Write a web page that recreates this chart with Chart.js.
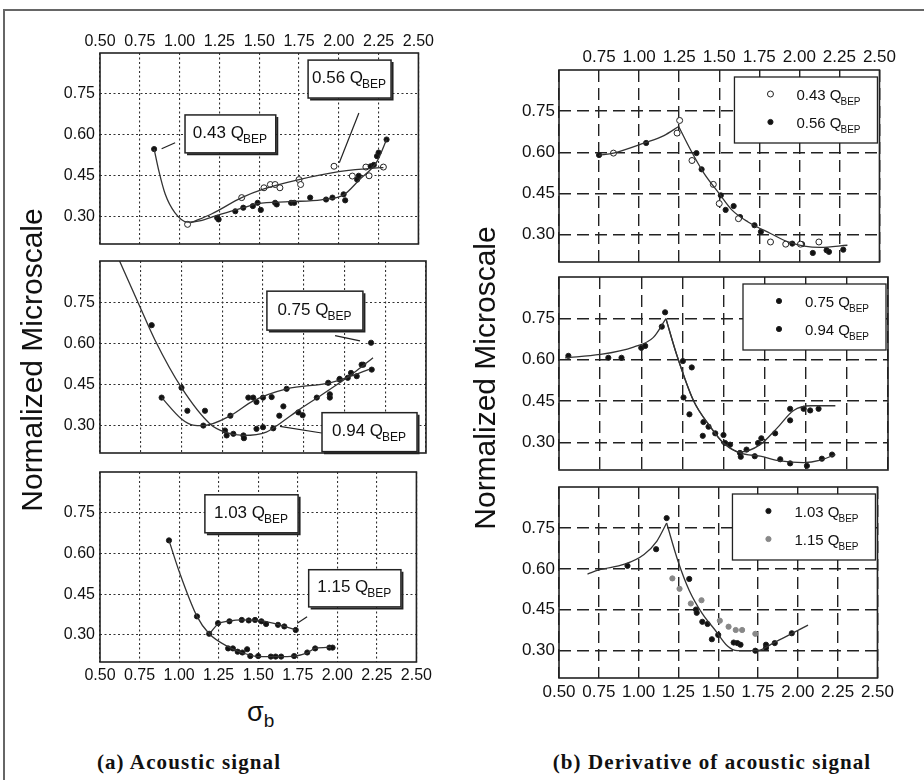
<!DOCTYPE html>
<html>
<head>
<meta charset="utf-8">
<script src="https://cdn.jsdelivr.net/npm/chart.js@4.4.1/dist/chart.umd.min.js"></script>
<style>
  body { margin: 0; background: #fff; width: 924px; height: 780px; position: relative; overflow: hidden; font-family: "Liberation Sans", Arial, sans-serif; }
  .frame { position: absolute; left: 3px; top: 9px; width: 960px; height: 800px; border-left: 2px solid #666; border-top: 2px solid #666; }
  .ytitle { position: absolute; width: 340px; height: 36px; line-height: 36px; text-align: center; font-size: 30px; color: #111; transform: rotate(-90deg); white-space: nowrap; }
  .sigma { position: absolute; left: 247px; top: 697px; font-size: 27px; color: #111; }
  .sigma sub { font-size: 19px; vertical-align: -6px; }
  .caption { position: absolute; top: 750px; font-family: "Liberation Serif", "Times New Roman", serif; font-weight: bold; font-size: 21px; letter-spacing: 1.1px; color: #111; white-space: nowrap; transform: translateX(-50%); }
  canvas { position: absolute; }
</style>
</head>
<body>
<div class="frame"></div>

<script>
// axes
var xTickValues = [0.50, 0.75, 1.00, 1.25, 1.50, 1.75, 2.00, 2.25, 2.50];
var yTickValues = [0.30, 0.45, 0.60, 0.75];

// (a) acoustic signal, top: 0.43 / 0.56 Q_BEP
var aTop43 = [[0.84,0.548],[1.236,0.296],[1.245,0.29],[1.35,0.32],[1.40,0.333],[1.46,0.339],[1.49,0.351],[1.51,0.325],[1.60,0.351],[1.61,0.345],[1.70,0.351],[1.72,0.351],[1.82,0.37],[1.92,0.363],[1.96,0.37],[2.03,0.382],[2.04,0.36],[2.115,0.436],[2.125,0.45],[2.20,0.485],[2.22,0.49],[2.24,0.522],[2.25,0.535],[2.30,0.583]];
var aTop56 = [[1.05,0.272],[1.39,0.37],[1.53,0.406],[1.57,0.418],[1.60,0.418],[1.63,0.406],[1.75,0.436],[1.76,0.418],[1.97,0.485],[2.085,0.449],[2.17,0.482],[2.19,0.45],[2.28,0.482]];
var aTop43Fit = [[0.84,0.548],[0.87,0.467],[0.91,0.382],[0.97,0.315],[1.05,0.28],[1.134,0.286],[1.236,0.305],[1.40,0.333],[1.49,0.348],[1.69,0.355],[1.89,0.362],[2.03,0.38],[2.13,0.436],[2.24,0.503],[2.30,0.583]];
var aTop56Fit = [[1.07,0.278],[1.20,0.31],[1.39,0.37],[1.53,0.402],[1.75,0.436],[2.00,0.465],[2.24,0.479],[2.28,0.48]];

// (a) middle: 0.75 / 0.94 Q_BEP
var aMid75 = [[0.878,0.402],[1.036,0.354],[1.144,0.354],[1.134,0.30],[1.30,0.336],[1.41,0.402],[1.44,0.402],[1.46,0.386],[1.50,0.402],[1.553,0.404],[1.645,0.434],[1.90,0.456],[1.97,0.47],[2.02,0.474],[2.105,0.522],[2.163,0.602]];
var aMid94 = [[0.817,0.666],[1.00,0.438],[1.267,0.282],[1.277,0.264],[1.318,0.27],[1.38,0.264],[1.383,0.254],[1.46,0.288],[1.50,0.294],[1.563,0.29],[1.60,0.336],[1.625,0.37],[1.717,0.348],[1.743,0.338],[1.83,0.402],[1.91,0.414],[1.91,0.402],[1.97,0.468],[2.04,0.492],[2.075,0.48],[2.115,0.522],[2.167,0.504]];
var aMid75Fit = [[0.878,0.402],[1.00,0.324],[1.07,0.302],[1.134,0.30],[1.30,0.336],[1.44,0.39],[1.645,0.434],[1.91,0.456],[2.04,0.48],[2.15,0.505]];
var aMid94Fit = [[0.62,0.90],[0.745,0.733],[0.837,0.612],[1.00,0.438],[1.175,0.306],[1.267,0.276],[1.38,0.264],[1.52,0.276],[1.60,0.306],[1.727,0.36],[1.85,0.408],[1.97,0.456],[2.07,0.498],[2.175,0.547]];

// (a) bottom: 1.03 / 1.15 Q_BEP
var aBot103 = [[0.936,0.648],[1.113,0.368],[1.19,0.304],[1.31,0.25],[1.34,0.25],[1.37,0.238],[1.40,0.235],[1.43,0.247],[1.45,0.222],[1.50,0.222],[1.58,0.22],[1.61,0.22],[1.645,0.22],[1.727,0.222],[1.81,0.235],[1.86,0.25],[1.95,0.253],[1.97,0.253]];
var aBot115 = [[1.246,0.343],[1.318,0.35],[1.396,0.355],[1.44,0.353],[1.48,0.355],[1.52,0.35],[1.55,0.34],[1.625,0.337],[1.665,0.331],[1.737,0.318]];
var aBot103Fit = [[0.936,0.648],[1.00,0.534],[1.113,0.368],[1.19,0.304],[1.318,0.254],[1.40,0.234],[1.50,0.22],[1.625,0.22],[1.727,0.222],[1.81,0.234],[1.86,0.25],[1.96,0.254]];
var aBot115Fit = [[1.195,0.306],[1.246,0.34],[1.318,0.351],[1.40,0.355],[1.50,0.353],[1.60,0.342],[1.737,0.318]];

// (b) derivative, top: 0.43 / 0.56 Q_BEP
var bTop43 = [[0.84,0.597],[1.253,0.716],[1.237,0.67],[1.33,0.57],[1.463,0.483],[1.50,0.413],[1.62,0.358],[1.82,0.273],[1.915,0.265],[2.007,0.265],[2.122,0.273]];
var bTop56 = [[0.75,0.59],[1.044,0.634],[1.358,0.597],[1.39,0.538],[1.51,0.443],[1.54,0.39],[1.59,0.404],[1.63,0.364],[1.72,0.334],[1.76,0.31],[1.956,0.267],[2.017,0.265],[2.084,0.233],[2.17,0.243],[2.185,0.237],[2.274,0.245]];
var bTopFitUp = [[0.75,0.589],[0.84,0.597],[1.034,0.634],[1.155,0.661],[1.247,0.694]];
var bTopFitDown = [[1.247,0.694],[1.32,0.61],[1.40,0.528],[1.50,0.449],[1.58,0.389],[1.68,0.346],[1.82,0.304],[1.93,0.273],[2.03,0.258],[2.13,0.253],[2.30,0.261]];

// (b) middle: 0.75 / 0.94 Q_BEP
var bMid75 = [[0.557,0.614],[0.80,0.607],[0.88,0.607],[1.00,0.643],[1.024,0.65],[1.125,0.72],[1.145,0.772],[1.253,0.595],[1.307,0.572],[1.293,0.402],[1.378,0.374],[1.45,0.333],[1.51,0.298],[1.60,0.262],[1.64,0.274],[1.71,0.298],[1.73,0.315],[1.814,0.333],[1.905,0.38],[1.905,0.422],[1.987,0.422],[2.027,0.416],[2.078,0.422]];
var bMid94 = [[1.257,0.463],[1.374,0.324],[1.409,0.357],[1.50,0.327],[1.54,0.292],[1.605,0.248],[1.69,0.25],[1.845,0.239],[1.905,0.224],[2.007,0.215],[2.098,0.241],[2.16,0.256]];
var bMidFitUp = [[0.537,0.607],[0.75,0.619],[0.953,0.646],[1.074,0.681],[1.15,0.749]];
var bMid75FitDown = [[1.15,0.749],[1.216,0.617],[1.318,0.451],[1.42,0.357],[1.50,0.298],[1.60,0.265],[1.723,0.292],[1.824,0.351],[1.926,0.416],[2.03,0.433],[2.18,0.433]];
var bMid94FitDown = [[1.15,0.749],[1.216,0.617],[1.318,0.451],[1.42,0.357],[1.50,0.298],[1.60,0.262],[1.723,0.25],[1.845,0.233],[1.987,0.227],[2.09,0.236],[2.18,0.256]];

// (b) bottom: 1.03 / 1.15 Q_BEP
var bBot103 = [[0.93,0.611],[1.11,0.672],[1.176,0.786],[1.318,0.563],[1.36,0.451],[1.365,0.439],[1.40,0.406],[1.433,0.398],[1.46,0.342],[1.50,0.358],[1.597,0.33],[1.62,0.328],[1.64,0.322],[1.733,0.30],[1.80,0.322],[1.80,0.31],[1.855,0.328],[1.962,0.364]];
var bBot115 = [[1.212,0.565],[1.257,0.527],[1.328,0.473],[1.395,0.485],[1.51,0.41],[1.565,0.388],[1.61,0.376],[1.65,0.376],[1.733,0.362]];
var bBotFitUp = [[0.679,0.581],[0.75,0.596],[0.912,0.617],[1.034,0.653],[1.115,0.702],[1.176,0.768]];
var bBotFitDown = [[1.176,0.768],[1.247,0.629],[1.318,0.521],[1.40,0.436],[1.48,0.376],[1.56,0.316],[1.62,0.30],[1.743,0.30],[1.845,0.328],[1.946,0.358],[2.064,0.394]];

var FONT = '"Liberation Sans", Arial, sans-serif';

function xy(arr) {
    return arr.map(function (p) { return { x: p[0], y: p[1] }; });
}

function pts(arr, flow, kind) {
    var fill = kind === 'open' ? '#fff' : (kind === 'grey' ? '#888' : '#111');
    return {
        data: xy(arr), flow: flow, showLine: false,
        pointRadius: kind === 'open' ? 3 : 2.6, pointHoverRadius: 0,
        pointBackgroundColor: fill, pointBorderColor: kind === 'grey' ? '#888' : '#222',
        pointBorderWidth: 1
    };
}

function fit(arr) {
    return {
        data: xy(arr), showLine: true, pointRadius: 0, pointHoverRadius: 0,
        borderColor: '#333', borderWidth: 1.3, fill: false,
        cubicInterpolationMode: 'monotone'
    };
}

// Q_BEP text with subscript
function drawQ(ctx, x, y, num, size, align) {
    var main = num + ' Q';
    ctx.font = size + 'px ' + FONT;
    var w1 = ctx.measureText(main).width;
    ctx.font = Math.round(size * 0.68) + 'px ' + FONT;
    var w2 = ctx.measureText('BEP').width;
    var x0 = align === 'center' ? x - (w1 + w2) / 2 : x;
    ctx.fillStyle = '#111';
    ctx.textAlign = 'left';
    ctx.textBaseline = 'alphabetic';
    ctx.font = size + 'px ' + FONT;
    ctx.fillText(main, x0, y);
    ctx.font = Math.round(size * 0.68) + 'px ' + FONT;
    ctx.fillText('BEP', x0 + w1 - 1, y + size * 0.3);
}

var panelDecor = {
    id: 'panelDecor',
    afterDatasetsDraw: function (chart, args, o) {
        var ctx = chart.ctx, xs = chart.scales.x, ys = chart.scales.y, a = chart.chartArea;
        ctx.save();

        // label boxes with pointer lines
        (o.notes || []).forEach(function (n) {
            ctx.strokeStyle = '#222';
            ctx.lineWidth = 1.2;
            if (n.line) {
                ctx.beginPath();
                ctx.moveTo(xs.getPixelForValue(n.line[0]), ys.getPixelForValue(n.line[1]));
                ctx.lineTo(xs.getPixelForValue(n.line[2]), ys.getPixelForValue(n.line[3]));
                ctx.stroke();
            }

            var x0 = xs.getPixelForValue(n.box[0]), y0 = ys.getPixelForValue(n.box[1]);
            var x1 = xs.getPixelForValue(n.box[2]), y1 = ys.getPixelForValue(n.box[3]);
            ctx.fillStyle = '#fff';
            ctx.fillRect(x0, y0, x1 - x0, y1 - y0);
            ctx.lineWidth = 1.5;
            ctx.strokeRect(x0, y0, x1 - x0, y1 - y0);
            ctx.lineWidth = 2;
            ctx.beginPath();
            ctx.moveTo(x1 + 1.5, y0 + 2);
            ctx.lineTo(x1 + 1.5, y1 + 1.5);
            ctx.lineTo(x0 + 2, y1 + 1.5);
            ctx.stroke();
            drawQ(ctx, (x0 + x1) / 2, (y0 + y1) / 2 + 4, n.text, 17, 'center');
        });

        // legend box
        if (o.legend) {
            var L = a.right - 145, T = a.top + 7;
            ctx.fillStyle = '#fff';
            ctx.fillRect(L, T, 143, 66);
            ctx.strokeStyle = '#222';
            ctx.lineWidth = 1.3;
            ctx.strokeRect(L, T, 143, 66);
            chart.data.datasets.filter(function (d) { return d.flow; }).forEach(function (d, i) {
                var y = T + 17 + i * 28;
                ctx.beginPath();
                ctx.arc(L + 36, y, d.pointRadius, 0, Math.PI * 2);
                ctx.fillStyle = d.pointBackgroundColor;
                ctx.fill();
                ctx.strokeStyle = d.pointBorderColor;
                ctx.lineWidth = 1;
                ctx.stroke();
                drawQ(ctx, L + 62, y + 6, d.flow, 15, 'left');
            });
        }
        ctx.restore();
    },
    afterDraw: function (chart) {
        var ctx = chart.ctx, a = chart.chartArea;
        ctx.save();
        ctx.strokeStyle = '#222';
        ctx.lineWidth = 1.6;
        ctx.strokeRect(a.left, a.top, a.right - a.left, a.bottom - a.top);
        ctx.restore();
    }
};

function addPanel(p) {
    var W = p.r - p.l + 80, H = p.b - p.t + 60;
    var c = document.createElement('canvas');
    c.width = W;
    c.height = H;
    c.style.left = (p.l - 70) + 'px';
    c.style.top = (p.t - 30) + 'px';
    c.style.width = W + 'px';
    c.style.height = H + 'px';
    document.body.appendChild(c);

    var dotted = p.style === 'dotted';
    var dash = dotted ? [2, 2.5] : [12, 6];
    var tickSize = dotted ? 16 : 17;

    new Chart(c, {
        type: 'scatter',
        data: { datasets: p.datasets },
        plugins: [panelDecor],
        options: {
            responsive: false,
            animation: false,
            events: [],
            layout: { padding: { left: 0, right: 10, top: p.axis === 'top' ? 0 : 30, bottom: p.axis === 'top' ? 30 : 0 } },
            plugins: {
                legend: { display: false },
                tooltip: { enabled: false },
                panelDecor: { notes: p.notes, legend: p.legend }
            },
            scales: {
                x: {
                    type: 'linear', position: p.axis === 'top' ? 'top' : 'bottom',
                    min: 0.5, max: 2.5,
                    afterBuildTicks: function (s) { s.ticks = xTickValues.map(function (v) { return { value: v }; }); },
                    afterFit: function (s) { s.height = 30; },
                    border: { display: false, dash: dash },
                    grid: { color: dotted ? '#333' : '#222', lineWidth: dotted ? 1.1 : 1.4, drawTicks: false },
                    ticks: {
                        display: p.axis !== 'none', padding: p.axis === 'top' ? 2 : 4, color: '#111',
                        font: { family: FONT, size: tickSize }, maxRotation: 0, autoSkip: false,
                        callback: function (v) { return v < p.firstLabel - 0.01 ? '' : v.toFixed(2); }
                    }
                },
                y: {
                    type: 'linear', min: 0.2, max: 0.9,
                    afterBuildTicks: function (s) { s.ticks = yTickValues.map(function (v) { return { value: v }; }); },
                    afterFit: function (s) { s.width = 70; },
                    border: { display: false, dash: dash },
                    grid: { color: dotted ? '#333' : '#222', lineWidth: dotted ? 1.1 : 1.4, drawTicks: false },
                    ticks: {
                        padding: dotted ? 5 : 4, color: '#111',
                        font: { family: FONT, size: tickSize },
                        callback: function (v) { return v.toFixed(2); }
                    }
                }
            }
        }
    });
}

// (a) acoustic signal
addPanel({
    l: 100, t: 53, r: 426, b: 244, axis: 'top', firstLabel: 0.5, style: 'dotted',
    datasets: [fit(aTop43Fit), fit(aTop56Fit), pts(aTop43, '0.43', 'filled'), pts(aTop56, '0.56', 'open')],
    notes: [
        { text: '0.43', box: [1.034, 0.673, 1.604, 0.534], line: [0.887, 0.549, 0.972, 0.571] },
        { text: '0.56', box: [1.807, 0.874, 2.328, 0.735], line: [2.126, 0.68, 2.003, 0.498] }
    ]
});
addPanel({
    l: 100, t: 261, r: 426, b: 453, axis: 'none', firstLabel: 0.5, style: 'dotted',
    datasets: [fit(aMid75Fit), fit(aMid94Fit), pts(aMid75, '0.75', 'filled'), pts(aMid94, '0.94', 'filled')],
    notes: [
        { text: '0.75', box: [1.524, 0.790, 2.113, 0.648], line: [1.942, 0.628, 2.095, 0.609] },
        { text: '0.94', box: [1.862, 0.347, 2.445, 0.205], line: [1.604, 0.297, 1.86, 0.273] }
    ]
});
addPanel({
    l: 100, t: 472, r: 426, b: 662, axis: 'bottom', firstLabel: 0.5, style: 'dotted',
    datasets: [fit(aBot103Fit), fit(aBot115Fit), pts(aBot103, '1.03', 'filled'), pts(aBot115, '1.15', 'filled')],
    notes: [
        { text: '1.03', box: [1.163, 0.816, 1.752, 0.676] },
        { text: '1.15', box: [1.819, 0.540, 2.402, 0.403], line: [1.747, 0.343, 1.809, 0.367] }
    ]
});

// (b) derivative of acoustic signal
addPanel({
    l: 559, t: 70, r: 888, b: 262, axis: 'top', firstLabel: 0.75, style: 'dashed', legend: true,
    datasets: [fit(bTopFitUp), fit(bTopFitDown), pts(bTop43, '0.43', 'open'), pts(bTop56, '0.56', 'filled')]
});
addPanel({
    l: 559, t: 277, r: 888, b: 470, axis: 'none', firstLabel: 0.5, style: 'dashed', legend: true,
    datasets: [fit(bMidFitUp), fit(bMid75FitDown), fit(bMid94FitDown), pts(bMid75, '0.75', 'filled'), pts(bMid94, '0.94', 'filled')]
});
addPanel({
    l: 559, t: 487, r: 888, b: 678, axis: 'bottom', firstLabel: 0.5, style: 'dashed', legend: true,
    datasets: [fit(bBotFitUp), fit(bBotFitDown), pts(bBot103, '1.03', 'filled'), pts(bBot115, '1.15', 'grey')]
});
</script>

<div class="ytitle" style="left:-138px; top:342px;">Normalized Microscale</div>
<div class="ytitle" style="left:315px; top:360px;">Normalized Microscale</div>
<div class="sigma">σ<sub>b</sub></div>
<div class="caption" style="left:189px;">(a) Acoustic signal</div>
<div class="caption" style="left:712px;">(b) Derivative of acoustic signal</div>
</body>
</html>
